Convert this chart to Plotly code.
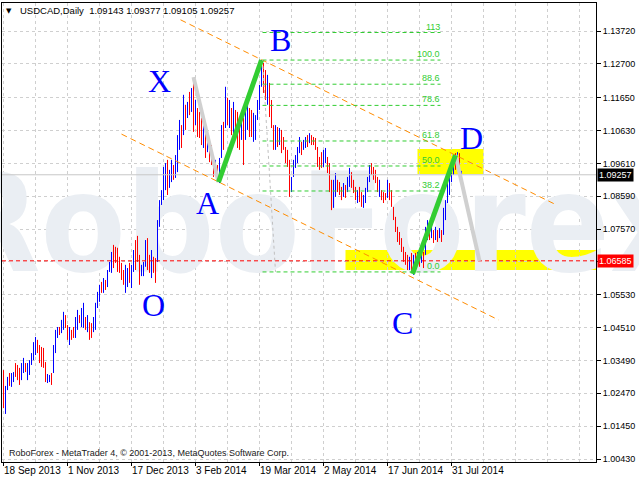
import plotly.graph_objects as go

# ---------------- data ----------------
date_labels = ["18 Sep 2013", "1 Nov 2013", "17 Dec 2013", "3 Feb 2014",
               "19 Mar 2014", "2 May 2014", "17 Jun 2014", "31 Jul 2014"]
date_bars = [0, 32, 64, 96, 128, 160, 192, 224]

highs = [
    1.0319, 1.0270, 1.0298, 1.0310, 1.0310, 1.0313, 1.0341, 1.0335, 1.0326, 1.0341,
    1.0357, 1.0341, 1.0341, 1.0350, 1.0372, 1.0406, 1.0422, 1.0413, 1.0397, 1.0391,
    1.0388, 1.0344, 1.0307, 1.0304, 1.0310, 1.0397, 1.0444, 1.0453, 1.0453, 1.0475,
    1.0500, 1.0490, 1.0459, 1.0453, 1.0444, 1.0453, 1.0484, 1.0506, 1.0490, 1.0512,
    1.0528, 1.0484, 1.0490, 1.0468, 1.0465, 1.0484, 1.0528, 1.0562, 1.0584, 1.0593,
    1.0605, 1.0599, 1.0630, 1.0655, 1.0686, 1.0708, 1.0702, 1.0699, 1.0671, 1.0652,
    1.0630, 1.0646, 1.0636, 1.0652, 1.0646, 1.0692, 1.0723, 1.0736, 1.0677, 1.0646,
    1.0655, 1.0723, 1.0729, 1.0677, 1.0692, 1.0671, 1.0667, 1.0785, 1.0847, 1.0878,
    1.0950, 1.0962, 1.0972, 1.0941, 1.0972, 1.0956, 1.0987, 1.1049, 1.1096, 1.1080,
    1.1174, 1.1143, 1.1152, 1.1183, 1.1195, 1.1226, 1.1158, 1.1133, 1.1121, 1.1102,
    1.1090, 1.1071, 1.1065, 1.1040, 1.1018, 1.0987, 1.0972, 1.0956, 1.0978, 1.1080,
    1.1090, 1.1199, 1.1165, 1.1158, 1.1133, 1.1152, 1.1127, 1.1121, 1.1102, 1.1111,
    1.1102, 1.1127, 1.1143, 1.1133, 1.1127, 1.1118, 1.1111, 1.1158, 1.1205, 1.1282,
    1.1273, 1.1251, 1.1236, 1.1211, 1.1158, 1.1080, 1.1080, 1.1074, 1.1071, 1.1065,
    1.1043, 1.1012, 1.1003, 1.0972, 1.0919, 1.0972, 1.0987, 1.1012, 1.1043, 1.1028,
    1.1034, 1.1043, 1.1049, 1.1055, 1.1049, 1.1043, 1.1040, 1.1012, 1.0981, 1.0996,
    1.1003, 1.1009, 1.0981, 1.0962, 1.0910, 1.0910, 1.0931, 1.0910, 1.0903, 1.0888,
    1.0900, 1.0894, 1.0919, 1.0947, 1.0934, 1.0910, 1.0888, 1.0878, 1.0888, 1.0872,
    1.0863, 1.0885, 1.0919, 1.0956, 1.0962, 1.0950, 1.0941, 1.0919, 1.0910, 1.0878,
    1.0872, 1.0869, 1.0910, 1.0900, 1.0878, 1.0826, 1.0795, 1.0764, 1.0748, 1.0729,
    1.0702, 1.0686, 1.0677, 1.0671, 1.0683, 1.0677, 1.0683, 1.0686, 1.0677, 1.0692,
    1.0686, 1.0764, 1.0785, 1.0760, 1.0770, 1.0754, 1.0764, 1.0754, 1.0760, 1.0754,
    1.0823, 1.0847, 1.0910, 1.0941, 1.0972, 1.0981, 1.0993, 1.0996, 1.0993, 1.09377,
]
lows = [
    1.0201, 1.0183, 1.0257, 1.0270, 1.0267, 1.0282, 1.0298, 1.0288, 1.0273, 1.0288,
    1.0310, 1.0313, 1.0288, 1.0304, 1.0335, 1.0350, 1.0366, 1.0372, 1.0341, 1.0329,
    1.0326, 1.0282, 1.0279, 1.0282, 1.0273, 1.0310, 1.0372, 1.0419, 1.0428, 1.0434,
    1.0444, 1.0450, 1.0413, 1.0397, 1.0413, 1.0419, 1.0419, 1.0444, 1.0465, 1.0453,
    1.0450, 1.0444, 1.0437, 1.0413, 1.0419, 1.0437, 1.0444, 1.0512, 1.0531, 1.0559,
    1.0559, 1.0568, 1.0577, 1.0624, 1.0621, 1.0636, 1.0652, 1.0624, 1.0621, 1.0599,
    1.0584, 1.0559, 1.0577, 1.0590, 1.0574, 1.0624, 1.0630, 1.0655, 1.0584, 1.0611,
    1.0611, 1.0640, 1.0630, 1.0621, 1.0605, 1.0621, 1.0590, 1.0655, 1.0764, 1.0832,
    1.0847, 1.0878, 1.0863, 1.0885, 1.0903, 1.0910, 1.0916, 1.0934, 1.1003, 1.1009,
    1.1049, 1.1065, 1.1102, 1.1111, 1.1121, 1.1059, 1.1080, 1.1043, 1.1040, 1.1018,
    1.1009, 1.0978, 1.0996, 1.0965, 1.0956, 1.0919, 1.0925, 1.0903, 1.0900, 1.0978,
    1.1003, 1.1071, 1.1080, 1.1071, 1.1049, 1.1028, 1.1034, 1.1009, 1.1003, 1.1034,
    1.0956, 1.1034, 1.1065, 1.1043, 1.1043, 1.1028, 1.1034, 1.1096, 1.1127, 1.1199,
    1.1180, 1.1158, 1.1143, 1.1105, 1.1071, 1.1003, 1.1003, 1.1012, 1.1018, 1.0993,
    1.1003, 1.0962, 1.0950, 1.0857, 1.0872, 1.0919, 1.0947, 1.0962, 1.0993, 1.0987,
    1.1003, 1.1009, 1.1012, 1.1024, 1.1018, 1.1018, 1.1003, 1.0950, 1.0941, 1.0947,
    1.0950, 1.0962, 1.0931, 1.0872, 1.0816, 1.0823, 1.0857, 1.0872, 1.0863, 1.0847,
    1.0857, 1.0854, 1.0872, 1.0888, 1.0885, 1.0869, 1.0847, 1.0838, 1.0841, 1.0826,
    1.0823, 1.0838, 1.0872, 1.0903, 1.0925, 1.0910, 1.0900, 1.0872, 1.0857, 1.0847,
    1.0838, 1.0847, 1.0854, 1.0847, 1.0826, 1.0785, 1.0748, 1.0717, 1.0708, 1.0686,
    1.0655, 1.0646, 1.0630, 1.0630, 1.0624, 1.0615, 1.0640, 1.0652, 1.0640, 1.0652,
    1.0636, 1.0677, 1.0723, 1.0723, 1.0729, 1.0714, 1.0723, 1.0717, 1.0729, 1.0717,
    1.0739, 1.0785, 1.0838, 1.0863, 1.0903, 1.0925, 1.0941, 1.0947, 1.0919, 1.09105,
]
# bar colour: B = up (blue), R = down (red)
bar_dirs = ("RBBRBBRRRB" "BRBBBBBRRR" "RRBBRBBBRB" "BRRBRRBBRB" "BRBRRBBBBR"
            "BRBBBRRRRR" "RBBRBBRRRB" "BBRRBRRBBB" "BBRBBRBBBR" "BRBRBRBRRR"
            "BRBRRRBRBB" "RBRBRBRRRB" "RBBRRBBBBB" "RRBRRRBRBR" "RRRRBBBBBR"
            "BBRBRRRRRR" "BBRRRBBRRR" "BRBBRRRBRR" "BBBBRRRRBR" "RRBRRRRRRR"
            "RRRBRBRBRB" "RBBRBRBRBR" "BBBBBBRBRB")

last_ohlc = [1.09143, 1.09377, 1.09105, 1.09257]
level_price = 1.06585

y_ticks = [1.0043, 1.0145, 1.0247, 1.0349, 1.0451, 1.0553, 1.0655, 1.0757,
           1.0859, 1.0961, 1.1063, 1.1165, 1.1270, 1.1372]
y_tick_text = ["1.00430", "1.01450", "1.02470", "1.03490", "1.04510", "1.05530", "",
               "1.07570", "1.08590", "1.09610", "1.10630", "1.11650", "1.12700", "1.13720"]

# pattern points (bar index, price)
pt_X = (95, 1.1229)
pt_A = (107.5, 1.0903)
pt_B = (129, 1.1282)
pt_C = (204.5, 1.0618)
pt_D = (226, 1.0987)
pt_T = (238, 1.06585)

# letter labels (bar index, price)
letters = ["X", "B", "A", "O", "C", "D"]
letter_x = [78, 138.5, 102, 75, 199.5, 234]
letter_y = [1.1217, 1.1344, 1.0838, 1.0521, 1.0465, 1.1040]

# Fibonacci retracement B -> C
fib_top = 1.1282
fib_bottom = 1.0624
fib_levels = [0, 38.2, 50, 61.8, 78.6, 88.6, 100, 113, 127.2]
fib_texts = ["0.0", "38.2", "50.0", "61.8", "78.6", "88.6", "100.0", "113", "127.2"]
fib_x = (129.5, 218.5)
fib_anchor_end = (136, 1.0624)

# channel lines (bar, price) pairs
channel_upper = [(88.5, 1.1407), (276.5, 1.0832)]
channel_lower = [(59, 1.1052), (247.5, 1.0475)]

# yellow zones: x0, x1, y0, y1
zones = [(207, 240, 1.0928, 1.1006), (171, 320, 1.0630, 1.0692)]

# ---------------- figure ----------------
fig = go.Figure()

# watermark
fig.add_trace(go.Scatter(
    x=[157], y=[1.0733], mode="text", text=["<b>RoboForex</b>"],
    textfont=dict(family="DejaVu Sans Condensed, Liberation Sans",
                  size=138, color="#eaeef3"),
    textposition="middle center", cliponaxis=False, hoverinfo="skip"))

# high-low bars, one 1-px vertical line per day
for d, col in (("B", "#0000ff"), ("R", "#ff0000")):
    xs, ys = [], []
    for i, (h, l) in enumerate(zip(highs, lows)):
        if bar_dirs[i] == d:
            xs += [i, i, None]
            ys += [l, h, None]
    fig.add_trace(go.Scatter(x=xs, y=ys, mode="lines",
                             line=dict(color=col, width=1), hoverinfo="skip"))

shapes = []
for x0, x1, y0, y1 in zones:
    shapes.append(dict(type="rect", xref="x", yref="y", x0=x0, x1=x1, y0=y0, y1=y1,
                       fillcolor="#ffff00", line=dict(width=0), layer="below"))

# bid line
shapes.append(dict(type="line", xref="paper", yref="y", x0=0, x1=1,
                   y0=last_ohlc[3], y1=last_ohlc[3],
                   line=dict(color="#c8c8c8", width=1)))
# red level line
shapes.append(dict(type="line", xref="paper", yref="y", x0=0, x1=1,
                   y0=level_price, y1=level_price,
                   line=dict(color="#ff0000", width=1, dash="4px,3px")))

# channels
for (ax, ay), (bx, by) in (channel_upper, channel_lower):
    shapes.append(dict(type="line", xref="x", yref="y", x0=ax, y0=ay, x1=bx, y1=by,
                       line=dict(color="#ff8c00", width=1, dash="6px,4px")))

# fib lines
rng = fib_top - fib_bottom
for lv in fib_levels:
    p = fib_bottom + rng * lv / 100.0
    shapes.append(dict(type="line", xref="x", yref="y", x0=fib_x[0], x1=fib_x[1],
                       y0=p, y1=p, line=dict(color="#32cd32", width=1, dash="4px,3px")))
shapes.append(dict(type="line", xref="x", yref="y", x0=fib_x[0], y0=fib_top,
                   x1=fib_anchor_end[0], y1=fib_anchor_end[1],
                   line=dict(color="#c0c0c0", width=1, dash="3px,3px")))

# pattern legs
for (p0, p1, col, w) in ((pt_X, pt_A, "#d0d0d0", 4), (pt_D, pt_T, "#d0d0d0", 4),
                         (pt_A, pt_B, "#32cd32", 5), (pt_C, pt_D, "#32cd32", 5)):
    shapes.append(dict(type="line", xref="x", yref="y", x0=p0[0], y0=p0[1],
                       x1=p1[0], y1=p1[1], line=dict(color=col, width=w)))

annotations = []
font_ui = "Liberation Sans, Arial, sans-serif"
for lv, t in zip(fib_levels, fib_texts):
    p = fib_bottom + rng * lv / 100.0
    annotations.append(dict(x=fib_x[1], y=p, xref="x", yref="y", text=t, showarrow=False,
                            xanchor="right", yanchor="bottom", borderpad=0,
                            font=dict(family=font_ui, size=9, color="#32cd32")))
for t, lx, ly in zip(letters, letter_x, letter_y):
    annotations.append(dict(x=lx, y=ly, xref="x", yref="y", text=t, showarrow=False,
                            font=dict(family="Liberation Serif, Times New Roman, serif",
                                      size=32, color="#0000ff")))
for b, t in zip(date_bars, date_labels):
    annotations.append(dict(x=b - 0.5, y=0, xref="x", yref="paper", text=t, showarrow=False,
                            xanchor="left", yanchor="top", yshift=-2, borderpad=0,
                            font=dict(family=font_ui, size=10, color="black")))
# price boxes
for price, bg in ((last_ohlc[3], "black"), (level_price, "#ff0000")):
    annotations.append(dict(x=1, y=price, xref="paper", yref="y", text=f"{price:.5f}",
                            showarrow=False, xanchor="left", yanchor="middle", xshift=1,
                            bgcolor=bg, borderpad=1,
                            font=dict(family=font_ui, size=9, color="white")))
# header & footer
annotations.append(dict(x=0.012, y=0.983, xref="paper", yref="paper", text="▼",
                        showarrow=False, xanchor="center", yanchor="middle",
                        font=dict(family="DejaVu Sans", size=7, color="black")))
annotations.append(dict(x=0.027, y=0.983, xref="paper", yref="paper",
                        text="USDCAD,Daily  " + " ".join(f"{v:.5f}" for v in last_ohlc),
                        showarrow=False, xanchor="left", yanchor="middle",
                        font=dict(family=font_ui, size=9.5, color="black")))
annotations.append(dict(x=0.008, y=0.02, xref="paper", yref="paper",
                        text="RoboForex - MetaTrader 4, © 2001-2013, MetaQuotes Software Corp.",
                        showarrow=False, xanchor="left", yanchor="middle",
                        font=dict(family=font_ui, size=9, color="#202020")))

grid = dict(showgrid=True, gridcolor="#cfcfcf", griddash="3px,3px", gridwidth=1)
fig.update_layout(
    width=639, height=480, margin=dict(l=2, r=43, t=3, b=18),
    paper_bgcolor="white", plot_bgcolor="white", showlegend=False, hovermode=False,
    shapes=shapes, annotations=annotations,
    xaxis=dict(range=[-0.75, 296.25], tickmode="array", tickvals=date_bars,
               showticklabels=False, ticks="outside", ticklen=3, tickcolor="black",
               showline=True, linecolor="black", linewidth=1, mirror=True,
               zeroline=False, **grid,
               minor=dict(tickmode="linear", tick0=0, dtick=16, showgrid=True,
                          gridcolor="#cfcfcf", griddash="3px,3px", ticks="")),
    yaxis=dict(range=[1.00337, 1.14592], side="right", tickmode="array",
               tickvals=y_ticks, ticktext=y_tick_text, ticks="outside", ticklen=4,
               tickcolor="black", tickfont=dict(family=font_ui, size=9, color="black"),
               showline=True, linecolor="black", linewidth=1, mirror=True,
               zeroline=False, **grid),
)

fig.write_html("out.html", config={"displayModeBar": False},
               post_script="document.body.style.margin='0';document.body.style.padding='0';")
